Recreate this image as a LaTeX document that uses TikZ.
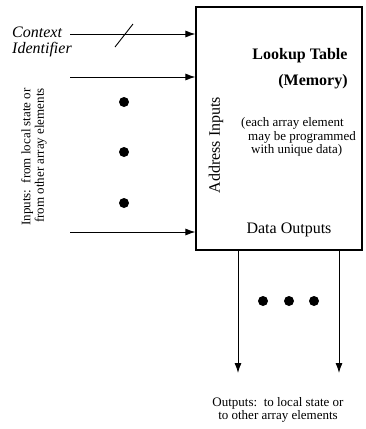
\documentclass[tikz,border=0pt]{standalone}
\usepackage{fontspec}
\setmainfont{Liberation Serif}
\usetikzlibrary{arrows.meta, positioning, calc}
\tikzset{
    signal/.style={draw, line width=0.9pt, -{Latex[length=10pt, width=7pt]}},
    dot/.style={circle, fill=black, inner sep=0pt, minimum size=10pt},
    small text/.style={font=\fontsize{13}{13.5}\selectfont, inner sep=0pt},
    big text/.style={font=\fontsize{16}{16.5}\selectfont, inner sep=0pt}
}

\begin{document}
\begin{tikzpicture}[x=1pt, y=-1pt]

\useasboundingbox (0,0) rectangle (366,429);

% Tabla de consulta
\node[draw, line width=1.2pt, minimum width=166pt, minimum height=243pt,
      inner sep=0pt] (table) at (279,128.5) {};

\node[big text, font=\fontsize{16}{16.5}\selectfont\bfseries] (title) at (300,56) {Lookup Table};
\node[big text, font=\fontsize{16}{16.5}\selectfont\bfseries] (memory) at (313,82) {(Memory)};
\node[big text, rotate=90] (address) at (216,145) {Address Inputs};
\node[small text, align=left, anchor=west] (note) at (241,137)
    {(each array element\\\hspace{7pt}may be programmed\\\hspace{10pt}with unique data)};
\node[big text] (data out) at (289,230) {Data Outputs};

% Entradas
\coordinate (ctx) at (70,34);
\coordinate (in top) at (70,77);
\coordinate (in bottom) at (70,232);

\draw[signal] (ctx) -- (ctx -| table.west);
\draw[line width=0.9pt] ($(ctx)+(45,13)$) -- ++(18,-23);
\draw[signal] (in top) -- (in top -| table.west);
\draw[signal] (in bottom) -- (in bottom -| table.west);

\node[big text, font=\fontsize{16}{16.5}\selectfont\itshape, align=left, anchor=west]
    (ctx label) at (12,42) {Context\\Identifier};
\node[small text, rotate=90, align=right] (in label) at (34,157)
    {Inputs:\ \ from local state or\\from other array elements};

\foreach \y in {102,152,203}
    \node[dot] (in dot \y) at (124,\y) {};

% Salidas
\coordinate (out left) at (238,373);
\coordinate (out right) at (339,373);

\draw[signal] (out left |- table.south) -- (out left);
\draw[signal] (out right |- table.south) -- (out right);

\foreach \x in {263,289,314}
    \node[dot] (out dot \x) at (\x,301) {};

\node[small text, align=center] (out label) at (278,410)
    {Outputs:\ \ to local state or\\to other array elements};

\end{tikzpicture}
\end{document}
